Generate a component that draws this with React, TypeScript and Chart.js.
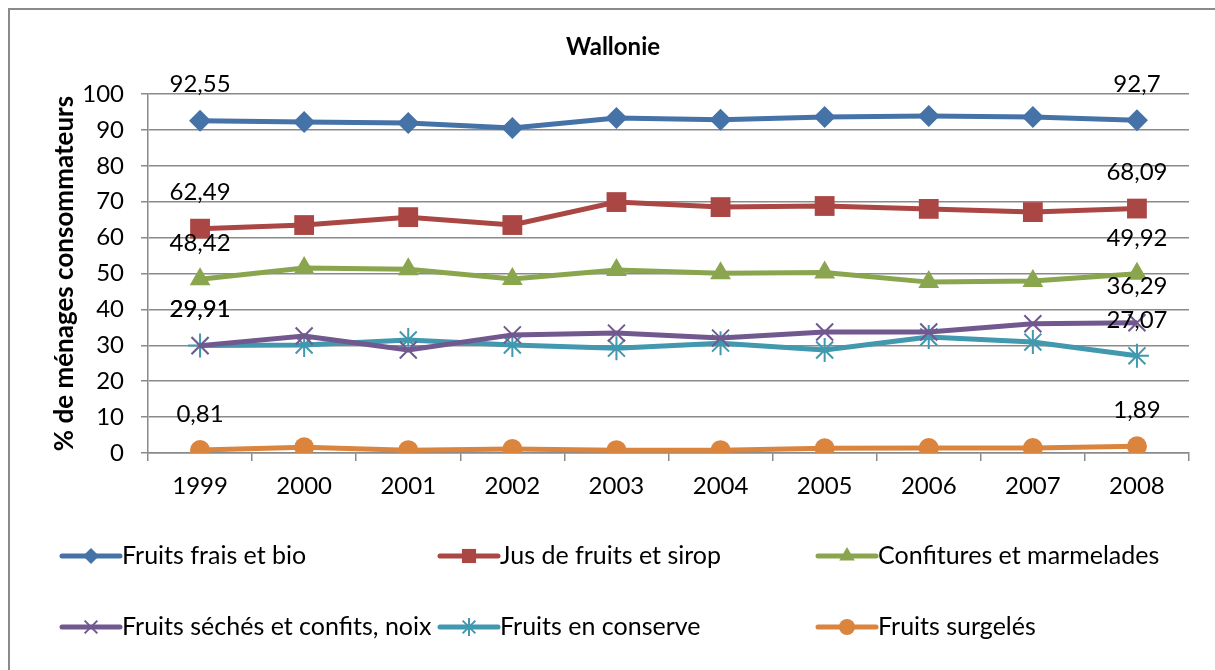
import React, { useEffect, useRef } from 'react';
import { Chart, registerables } from 'chart.js';
import { drawPoint } from 'chart.js/helpers';

Chart.register(...registerables);

const years = ['1999', '2000', '2001', '2002', '2003', '2004', '2005', '2006', '2007', '2008'];
const seriesNames = [
  'Fruits frais et bio',
  'Jus de fruits et sirop',
  'Confitures et marmelades',
  'Fruits séchés et confits, noix',
  'Fruits en conserve',
  'Fruits surgelés',
];
const frais = [92.55, 92.2, 91.9, 90.5, 93.3, 92.8, 93.6, 93.9, 93.6, 92.7];
const jus = [62.49, 63.5, 65.7, 63.5, 69.9, 68.5, 68.8, 68.0, 67.1, 68.09];
const confitures = [48.42, 51.5, 51.2, 48.5, 51.0, 50.1, 50.3, 47.6, 47.9, 49.92];
const seches = [29.91, 32.6, 28.7, 32.9, 33.4, 32.0, 33.7, 33.7, 36.0, 36.29];
const conserve = [29.91, 30.1, 31.5, 30.1, 29.2, 30.6, 28.7, 32.3, 30.9, 27.07];
const surgeles = [0.81, 1.6, 0.8, 1.1, 0.8, 0.8, 1.3, 1.4, 1.4, 1.89];
const yTicks = [0, 10, 20, 30, 40, 50, 60, 70, 80, 90, 100];

const seriesValues = [frais, jus, confitures, seches, conserve, surgeles];
const colors = ['#4572A7', '#AA4643', '#89A54E', '#71588F', '#4198AF', '#DB843D'];
const styles = ['rectRot', 'rect', 'triangle', 'crossRot', 'star', 'circle'];
const radii = [11, 14, 12, 12, 12, 10];
const legendRadii = [8, 10, 9, 9, 9, 8];

const FONT = 'Lato, "Open Sans", sans-serif';

const fmt = (v: number) => String(v).replace('.', ',');

const decorPlugin = {
  id: 'decor',
  beforeDraw(chart: any) {
    const ctx = chart.ctx;
    ctx.save();
    ctx.fillStyle = '#ffffff';
    ctx.fillRect(0, 0, chart.width, chart.height);
    ctx.strokeStyle = '#8a8a8a';
    ctx.lineWidth = 2;
    ctx.beginPath();
    ctx.moveTo(9, chart.height);
    ctx.lineTo(9, 9);
    ctx.lineTo(chart.width, 9);
    ctx.stroke();
    ctx.fillStyle = '#000';
    ctx.font = `bold 24px ${FONT}`;
    ctx.textAlign = 'center';
    ctx.textBaseline = 'middle';
    ctx.fillText('Wallonie', 613, 47);
    ctx.restore();
  },
  afterDatasetsDraw(chart: any) {
    const ctx = chart.ctx;
    ctx.save();
    ctx.fillStyle = '#000';
    ctx.font = `24px ${FONT}`;
    ctx.textAlign = 'center';
    ctx.textBaseline = 'middle';
    chart.data.datasets.forEach((ds: any, i: number) => {
      const meta = chart.getDatasetMeta(i);
      const last = ds.data.length - 1;
      [0, last].forEach((idx) => {
        const pt = meta.data[idx];
        ctx.fillText(fmt(ds.data[idx]), pt.x, pt.y - 36);
      });
    });
    const colX = [62, 440, 818];
    const rowY = [556, 627];
    chart.data.datasets.forEach((ds: any, i: number) => {
      const x0 = colX[i % 3];
      const y = rowY[Math.floor(i / 3)];
      ctx.strokeStyle = colors[i];
      ctx.lineWidth = 5;
      ctx.lineCap = 'round';
      ctx.beginPath();
      ctx.moveTo(x0, y);
      ctx.lineTo(x0 + 58, y);
      ctx.stroke();
      ctx.lineCap = 'butt';
      ctx.fillStyle = colors[i];
      ctx.strokeStyle = colors[i];
      ctx.lineWidth = 2;
      drawPoint(ctx, { pointStyle: styles[i], radius: legendRadii[i], rotation: 0, borderWidth: (i === 3 || i === 4) ? 2 : 0 } as any, x0 + 29, y);
      ctx.fillStyle = '#000';
      ctx.font = `25px ${FONT}`;
      ctx.textAlign = 'left';
      ctx.textBaseline = 'middle';
      ctx.fillText(ds.label, x0 + 60, y);
    });
    ctx.restore();
  },
};

export default function App() {
  const ref = useRef<HTMLCanvasElement | null>(null);
  useEffect(() => {
    if (!ref.current) return;
    const chart = new Chart(ref.current, {
      type: 'line',
      data: {
        labels: years,
        datasets: seriesValues.map((vals, i) => ({
          label: seriesNames[i],
          data: vals,
          borderColor: colors[i],
          backgroundColor: colors[i],
          borderWidth: 5,
          pointStyle: styles[i] as any,
          pointRadius: radii[i],
          pointBackgroundColor: colors[i],
          pointBorderColor: colors[i],
          pointBorderWidth: (i === 3 || i === 4) ? 2 : 0,
          tension: 0,
          fill: false,
        })),
      },
      options: {
        animation: false,
        responsive: false,
        layout: { padding: { top: 94, left: 0, right: 26, bottom: 157 } },
        plugins: { legend: { display: false }, title: { display: false }, tooltip: { enabled: false } },
        scales: {
          x: {
            offset: true,
            grid: { offset: true, drawOnChartArea: false, drawTicks: true, tickLength: 8, color: '#8a8a8a', lineWidth: 1.5 },
            border: { color: '#8a8a8a', width: 1.5 },
            ticks: { color: '#000', font: { family: FONT, size: 24 }, padding: 11, maxRotation: 0 },
            afterFit: (s: any) => { s.height = 60; },
          },
          y: {
            min: 0,
            max: 100,
            afterBuildTicks: (s: any) => { s.ticks = yTicks.map((v) => ({ value: v })); },
            grid: { color: '#8a8a8a', lineWidth: 1.5, tickLength: 7 },
            border: { color: '#8a8a8a', width: 1.5 },
            ticks: { color: '#000', font: { family: FONT, size: 24 }, padding: 17 },
            title: {
              display: true,
              text: '% de ménages consommateurs',
              color: '#000',
              font: { family: FONT, size: 26, weight: 'bold', lineHeight: 1.2 },
              padding: { top: 49, bottom: 0 },
            },
            afterFit: (s: any) => { s.width = 148; },
          },
        },
      },
      plugins: [decorPlugin],
    });
    return () => chart.destroy();
  }, []);
  return (
    <div style={{ position: 'fixed', left: 0, top: 0, width: 1215, height: 670, background: '#fff' }}>
      <canvas ref={ref} width={1215} height={670} style={{ width: 1215, height: 670, display: 'block' }} />
    </div>
  );
}
